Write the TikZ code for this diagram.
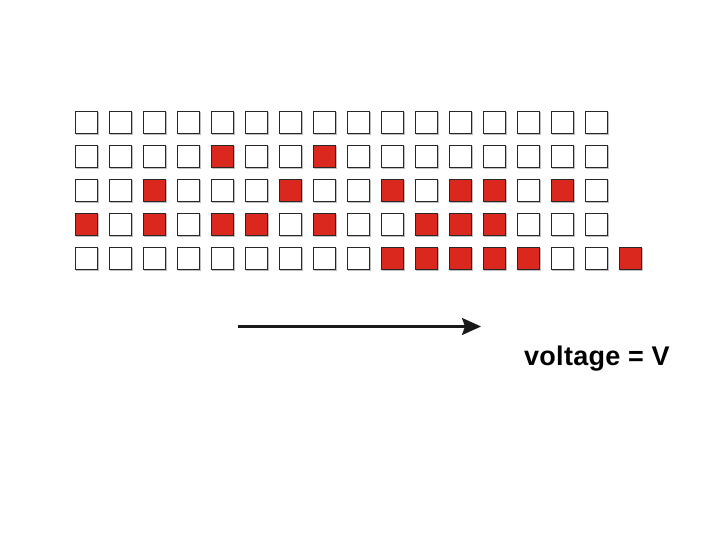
\documentclass[tikz,border=0pt]{standalone}
\usepackage{fontspec}
\setmainfont{Liberation Sans}
\usetikzlibrary{arrows.meta}
\definecolor{cellred}{RGB}{218,40,30}
\definecolor{celledge}{RGB}{40,40,40}
\tikzset{
  cell/.style={draw=celledge, line width=1.4pt, minimum size=22pt, inner sep=0pt, outer sep=0pt, fill=white},
  oncell/.style={cell, fill=cellred},
  shadowcell/.style={draw=black!25, line width=1.2pt, minimum size=22pt, inner sep=0pt},
}
\begin{document}
\begin{tikzpicture}[x=1pt,y=-1pt]
\useasboundingbox (0,0) rectangle (720,540);
\foreach \r/\reds in {0/{-1},1/{4,7},2/{2,6,9,11,12,14},3/{0,2,4,5,7,10,11,12},4/{9,10,11,12,13,16}}{
  \foreach \c in {0,...,15}{
    \def\st{cell}
    \foreach \k in \reds {\ifnum\k=\c\relax\global\def\st{oncell}\fi}
    \node[shadowcell] at (87.5+34*\c,123.5+34*\r) {};
    \node[\st] (s-\r-\c) at (86.5+34*\c,122.5+34*\r) {};
  }
}
\node[shadowcell] at (631.5,259.5) {};
\node[oncell] (s-4-16) at (630.5,258.5) {};
% arrow
\coordinate (a0) at (238,326.5);
\coordinate (a1) at (481,326.5);
\draw[line width=2.2pt, draw=black!90, -{Stealth[length=19pt,width=17pt,inset=3pt]}] (a0) -- (a1);
% label
\node[anchor=base west, inner sep=0pt, font={\fontsize{27pt}{32pt}\selectfont\bfseries\addfontfeature{LetterSpace=1}}] (lbl) at (524,365.5) {voltage = V};
\end{tikzpicture}
\end{document}
